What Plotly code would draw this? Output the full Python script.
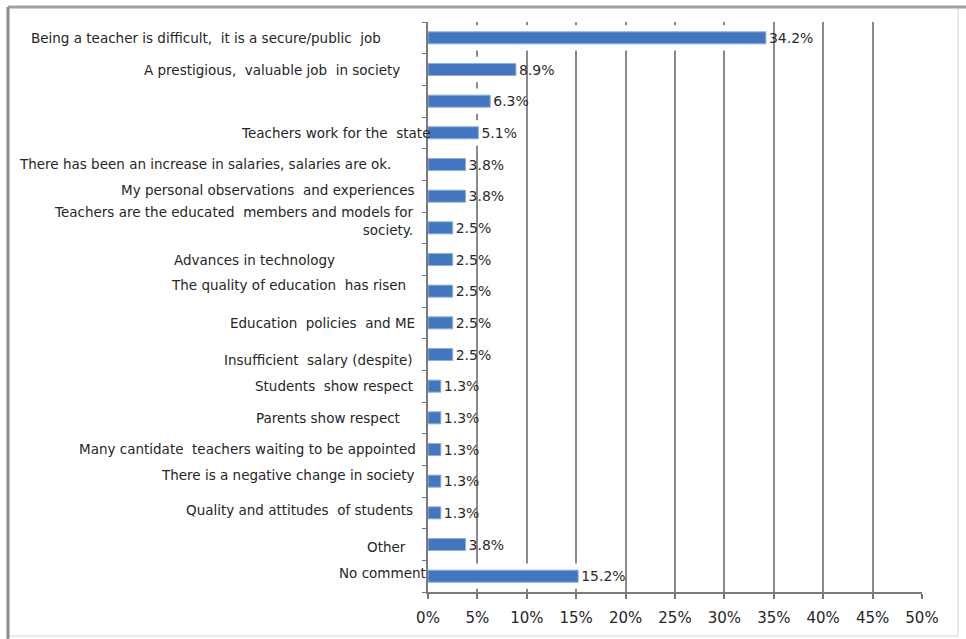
import plotly.graph_objects as go

# Survey responses (share of respondents, %)
categories = [
    "Being a teacher is difficult,  it is a secure/public  job",
    "A prestigious,  valuable job  in society",
    "",
    "Teachers work for the  state",
    "There has been an increase in salaries, salaries are ok.",
    "My personal observations  and experiences",
    "Teachers are the educated  members and models for<br>society.",
    "Advances in technology",
    "The quality of education  has risen",
    "Education  policies  and ME",
    "Insufficient  salary (despite)",
    "Students  show respect",
    "Parents show respect",
    "Many cantidate  teachers waiting to be appointed",
    "There is a negative change in society",
    "Quality and attitudes  of students",
    "Other",
    "No comment",
]
values = [34.2, 8.9, 6.3, 5.1, 3.8, 3.8, 2.5, 2.5, 2.5, 2.5, 2.5,
          1.3, 1.3, 1.3, 1.3, 1.3, 3.8, 15.2]
x_ticks = [0, 5, 10, 15, 20, 25, 30, 35, 40, 45, 50]

# Per-label nudges (px) for the hand-placed category captions
label_dx = [-45, -26, 0, 4, -35, -11, -12, -91, -20, -11, -13, -13, -26, -10, -11, -13, -20, 0]
label_dy = [0, 0, 0, 0, 1, 6, 7, 0, 6, 0, -5, 0, 0, 1, 6, 3, -2, 3]

W, H = 966, 639
ML, MR, MT, MB = 428, 44, 22, 47
FONT = "DejaVu Sans"
BLUE = "#4276c0"

rows = list(range(len(categories)))

fig = go.Figure()

# white backing plates behind each bar (they mask the gridlines)
fig.add_trace(go.Bar(
    x=values, y=rows, orientation="h", width=0.8,
    marker=dict(color="white", line=dict(width=0)),
    hoverinfo="skip", showlegend=False,
))

fig.add_trace(go.Bar(
    x=values, y=rows, orientation="h", width=0.38,
    marker=dict(color=BLUE, line=dict(color="#8db0dc", width=1)),
    text=[f"{v:.1f}%" for v in values],
    textposition="outside",
    constraintext="none",
    textfont=dict(family=FONT, size=14, color="#2b2b2b"),
    cliponaxis=False,
    showlegend=False,
))

for i, (lab, dx, dy) in enumerate(zip(categories, label_dx, label_dy)):
    if not lab:
        continue
    fig.add_annotation(
        x=0, y=i, xref="x", yref="y", text=lab, showarrow=False,
        xanchor="right", yanchor="middle", align="right",
        xshift=dx, yshift=dy,
        font=dict(family=FONT, size=13.5, color="#262626"),
    )

pw = W - ML - MR
ph = H - MT - MB


def px_x(p):
    return (p - ML) / pw


def px_y(p):
    return (H - MB - p) / ph


# outer frame
fig.add_shape(type="rect", xref="paper", yref="paper",
              x0=px_x(8), x1=px_x(958), y0=px_y(636), y1=px_y(7),
              line=dict(color="#d6d6d6", width=1), layer="below")
fig.add_shape(type="line", xref="paper", yref="paper",
              x0=px_x(8), x1=px_x(966), y0=px_y(7), y1=px_y(7),
              line=dict(color="#a0a0a0", width=3))
fig.add_shape(type="line", xref="paper", yref="paper",
              x0=px_x(8), x1=px_x(8), y0=px_y(639), y1=px_y(7),
              line=dict(color="#8c8c8c", width=3))

fig.update_layout(
    width=W, height=H,
    margin=dict(l=ML, r=MR, t=MT, b=MB, pad=0),
    paper_bgcolor="white", plot_bgcolor="white",
    barmode="overlay",
    bargap=0.2,
    font=dict(family=FONT, color="#262626"),
    xaxis=dict(
        range=[0, 50], tickvals=x_ticks,
        ticktext=[f"{t}%" for t in x_ticks],
        showgrid=True, gridcolor="#8a8a8a", gridwidth=2,
        zeroline=False,
        showline=True, linecolor="#7a7a7a", linewidth=2,
        ticks="outside", ticklen=5, tickcolor="#7a7a7a", tickwidth=2,
        ticklabelstandoff=6,
        tickfont=dict(family=FONT, size=15, color="#262626"),
        fixedrange=True,
    ),
    yaxis=dict(
        range=[len(categories) - 0.5, -0.5],
        tickvals=[i - 0.5 for i in range(len(categories) + 1)],
        showticklabels=False,
        showgrid=False, zeroline=False,
        showline=True, linecolor="#7a7a7a", linewidth=2,
        ticks="outside", ticklen=4, tickcolor="#7a7a7a", tickwidth=1,
        fixedrange=True,
    ),
)

fig.write_html("out.html")
